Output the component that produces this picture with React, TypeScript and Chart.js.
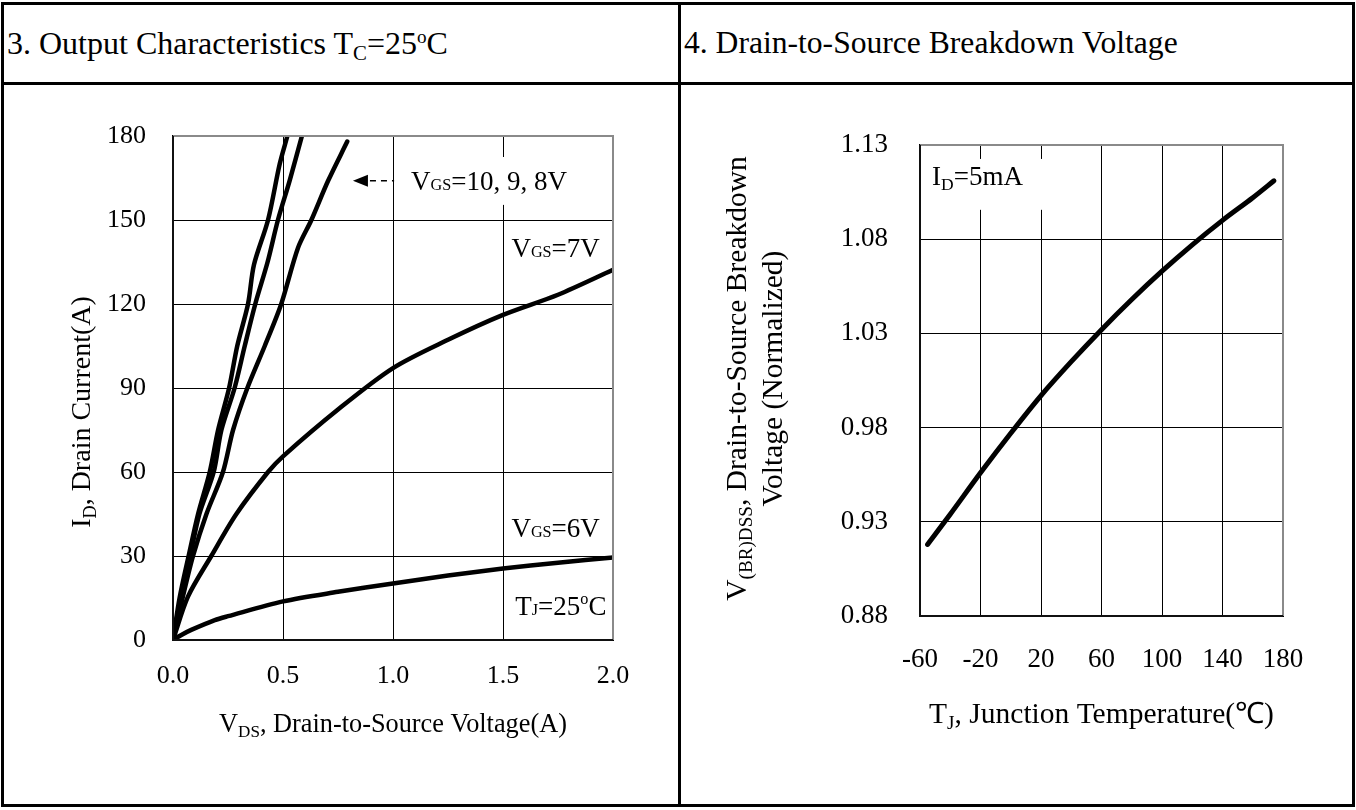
import React, { useEffect, useRef } from "react";
import { Chart, registerables } from "chart.js";

Chart.register(...registerables);

const FONT = '"Liberation Serif", "Times New Roman", serif';

// ---- Chart 3: Output characteristics (VDS [V] vs ID [A]) ----
const vds10 = [0, 0.03, 0.071, 0.114, 0.167, 0.205, 0.255, 0.292, 0.341, 0.368, 0.432, 0.485, 0.52];
const id10 = [0, 15, 30, 45, 60, 75, 90, 105, 120, 134, 150, 170, 180];
const vds9 = [0, 0.035, 0.078, 0.12, 0.185, 0.22, 0.28, 0.326, 0.374, 0.43, 0.477, 0.53, 0.586];
const id9 = [0, 15, 30, 45, 60, 75, 90, 105, 120, 135, 150, 164, 180];
const vds8 = [0, 0.045, 0.091, 0.152, 0.227, 0.273, 0.338, 0.417, 0.492, 0.568, 0.629, 0.705, 0.792];
const id8 = [0, 15.5, 30, 45, 60, 75, 90, 105, 120, 140, 150, 164, 178];
const vds7 = [0, 0.068, 0.174, 0.288, 0.432, 0.5, 0.75, 1.0, 1.25, 1.5, 1.75, 2.0];
const id7 = [0, 15.5, 30, 45, 60, 65.6, 82.3, 97.1, 107.2, 116.1, 123.3, 132.2];
const vds6 = [0, 0.038, 0.083, 0.19, 0.25, 0.5, 0.75, 1.0, 1.25, 1.5, 1.75, 2.0];
const id6 = [0, 1.8, 3.6, 7.1, 8.5, 13.8, 17.2, 20.2, 23, 25.5, 27.6, 29.5];
const vdsTicks = [0, 0.5, 1.0, 1.5, 2.0];
const idTicks = [0, 30, 60, 90, 120, 150, 180];

// ---- Chart 4: Breakdown voltage vs junction temperature ----
const tempC = [-55, -40, -20, 0, 20, 40, 60, 80, 100, 120, 140, 160, 174];
const bvNorm = [0.918, 0.934, 0.956, 0.977, 0.997, 1.015, 1.032, 1.048, 1.063, 1.077, 1.09, 1.102, 1.111];
const tempTicks = [-60, -20, 20, 60, 100, 140, 180];
const bvTicks = [0.88, 0.93, 0.98, 1.03, 1.08, 1.13];

type Seg = { t: string; k?: "sub" | "sup" | "small" };

function segSize(s: Seg, size: number) {
  if (s.k === "sub") return size * 0.65;
  if (s.k === "sup") return size * 0.6;
  if (s.k === "small") return size * 0.6;
  return size;
}
function segDy(s: Seg, size: number) {
  if (s.k === "sub") return size * 0.2;
  if (s.k === "sup") return -size * 0.42;
  return 0;
}

function drawRich(
  ctx: CanvasRenderingContext2D,
  segs: Seg[],
  x: number,
  y: number,
  size: number,
  align: "left" | "center" | "right",
  rotate = false
) {
  ctx.save();
  ctx.translate(x, y);
  if (rotate) ctx.rotate(-Math.PI / 2);
  ctx.textBaseline = "alphabetic";
  ctx.textAlign = "left";
  ctx.fillStyle = "#000";
  let total = 0;
  const widths = segs.map((s) => {
    ctx.font = `${segSize(s, size)}px ${FONT}`;
    const w = ctx.measureText(s.t).width;
    total += w;
    return w;
  });
  let cx = align === "left" ? 0 : align === "center" ? -total / 2 : -total;
  const base = size * 0.33;
  segs.forEach((s, i) => {
    ctx.font = `${segSize(s, size)}px ${FONT}`;
    ctx.fillText(s.t, cx, base + segDy(s, size));
    cx += widths[i];
  });
  ctx.restore();
}

function drawFrame(chart: any) {
  const { ctx, chartArea: a } = chart;
  ctx.save();
  ctx.lineWidth = 2;
  ctx.strokeStyle = "#8a8a8a";
  ctx.beginPath();
  ctx.moveTo(a.left, a.top);
  ctx.lineTo(a.right, a.top);
  ctx.lineTo(a.right, a.bottom);
  ctx.stroke();
  ctx.strokeStyle = "#111";
  ctx.beginPath();
  ctx.moveTo(a.left, a.top);
  ctx.lineTo(a.left, a.bottom);
  ctx.lineTo(a.right, a.bottom);
  ctx.stroke();
  ctx.restore();
}

function whiteBox(chart: any, xa: number, xb: number, ya: number, yb: number) {
  const { ctx, scales } = chart;
  const x0 = scales.x.getPixelForValue(xa);
  const x1 = scales.x.getPixelForValue(xb);
  const y0 = scales.y.getPixelForValue(ya);
  const y1 = scales.y.getPixelForValue(yb);
  ctx.save();
  ctx.fillStyle = "#fff";
  ctx.fillRect(x0, y0, x1 - x0, y1 - y0);
  ctx.restore();
}

const leftDecor = {
  id: "leftDecor",
  beforeDatasetsDraw(chart: any) {
    whiteBox(chart, 1.04, 1.9, 172.5, 155.4);
  },
  afterDraw(chart: any) {
    const { ctx, chartArea: a, scales } = chart;
    const X = (v: number) => scales.x.getPixelForValue(v);
    const Y = (v: number) => scales.y.getPixelForValue(v);
    drawFrame(chart);
    const fs = 27;
    // arrow + dashes
    ctx.save();
    ctx.fillStyle = "#000";
    ctx.strokeStyle = "#000";
    const ay = Y(164);
    const tip = X(0.818);
    ctx.beginPath();
    ctx.moveTo(tip, ay);
    ctx.lineTo(tip + 15, ay - 6);
    ctx.lineTo(tip + 15, ay + 6);
    ctx.closePath();
    ctx.fill();
    ctx.lineWidth = 1.5;
    ctx.setLineDash([6, 5]);
    ctx.beginPath();
    ctx.moveTo(tip + 17, ay);
    ctx.lineTo(X(1.005), ay);
    ctx.stroke();
    ctx.restore();
    drawRich(ctx, [{ t: "V" }, { t: "GS", k: "small" }, { t: "=10, 9, 8V" }], X(1.082), Y(164), fs, "left");
    drawRich(ctx, [{ t: "V" }, { t: "GS", k: "small" }, { t: "=7V" }], X(1.94), Y(140), fs, "right");
    drawRich(ctx, [{ t: "V" }, { t: "GS", k: "small" }, { t: "=6V" }], X(1.94), Y(40), fs, "right");
    drawRich(ctx, [{ t: "T" }, { t: "J", k: "small" }, { t: "=25" }, { t: "o", k: "sup" }, { t: "C" }], X(1.97), Y(12), fs, "right");
    // axis titles
    drawRich(ctx, [{ t: "I" }, { t: "D", k: "sub" }, { t: ", Drain Current(A)" }], a.left - 92, (a.top + a.bottom) / 2 + 24, 28, "center", true);
    drawRich(ctx, [{ t: "V" }, { t: "DS", k: "sub" }, { t: ", Drain-to-Source Voltage(A)" }], (a.left + a.right) / 2, a.bottom + 83, 26.3, "center");
  },
};

const rightDecor = {
  id: "rightDecor",
  beforeDatasetsDraw(chart: any) {
    whiteBox(chart, -56.7, 32.5, 1.1226, 1.0956);
  },
  afterDraw(chart: any) {
    const { ctx, chartArea: a, scales } = chart;
    const X = (v: number) => scales.x.getPixelForValue(v);
    const Y = (v: number) => scales.y.getPixelForValue(v);
    drawFrame(chart);
    drawRich(ctx, [{ t: "I" }, { t: "D", k: "sub" }, { t: "=5mA" }], X(-52), Y(1.1136), 27, "left");
    const my = (a.top + a.bottom) / 2 - 2;
    drawRich(ctx, [{ t: "V" }, { t: "(BR)DSS", k: "sub" }, { t: ", Drain-to-Source Breakdown" }], a.left - 184, my, 29.5, "center", true);
    drawRich(ctx, [{ t: "Voltage (Normalized)" }], a.left - 148, my, 29.5, "center", true);
    drawRich(ctx, [{ t: "T" }, { t: "J", k: "sub" }, { t: ", Junction Temperature(\u2103)" }], (a.left + a.right) / 2, a.bottom + 97, 29.5, "center");
  },
};

function pts(xs: number[], ys: number[]) {
  return xs.map((x, i) => ({ x, y: ys[i] }));
}

function lineDs(data: { x: number; y: number }[], width: number) {
  return {
    data,
    borderColor: "#000",
    borderWidth: width,
    pointRadius: 0,
    tension: 0.3,
    fill: false,
    borderCapStyle: "round" as const,
    borderJoinStyle: "round" as const,
  };
}

function scaleOpts(
  min: number,
  max: number,
  ticks: number[],
  fmt: (v: number) => string,
  fontSize: number,
  pad: number,
  fitSize: number,
  horiz: boolean
) {
  return {
    type: "linear" as const,
    min,
    max,
    afterBuildTicks: (s: any) => {
      s.ticks = ticks.map((v) => ({ value: v }));
    },
    afterFit: (s: any) => {
      if (horiz) s.height = fitSize;
      else s.width = fitSize;
    },
    grid: { color: "#000", lineWidth: 1, drawTicks: false },
    border: { display: true, color: "#000", width: 2 },
    ticks: {
      color: "#000",
      padding: pad,
      autoSkip: false,
      maxRotation: 0,
      font: { family: FONT, size: fontSize },
      callback: (v: any) => fmt(Number(v)),
    },
  };
}

export default function App() {
  const leftRef = useRef<HTMLCanvasElement>(null);
  const rightRef = useRef<HTMLCanvasElement>(null);

  useEffect(() => {
    const c1 = new Chart(leftRef.current!, {
      type: "line",
      data: {
        datasets: [
          lineDs(pts(vds10, id10), 4.5),
          lineDs(pts(vds9, id9), 4.5),
          lineDs(pts(vds8, id8), 4.5),
          lineDs(pts(vds7, id7), 4.5),
          lineDs(pts(vds6, id6), 4.5),
        ],
      },
      options: {
        responsive: false,
        animation: false,
        devicePixelRatio: 1,
        layout: { padding: { left: 29, right: 65, top: 51, bottom: 64 } },
        plugins: { legend: { display: false }, tooltip: { enabled: false } },
        scales: {
          x: scaleOpts(0, 2, vdsTicks, (v) => v.toFixed(1), 26, 21, 100, true),
          y: scaleOpts(0, 180, idTicks, (v) => String(v), 26, 27, 140, false),
        },
      },
      plugins: [leftDecor],
    } as any);

    const c2 = new Chart(rightRef.current!, {
      type: "line",
      data: { datasets: [lineDs(pts(tempC, bvNorm), 5)] },
      options: {
        responsive: false,
        animation: false,
        devicePixelRatio: 1,
        layout: { padding: { left: 89, right: 69, top: 60, bottom: 88 } },
        plugins: { legend: { display: false }, tooltip: { enabled: false } },
        scales: {
          x: scaleOpts(-60, 180, tempTicks, (v) => String(v), 27, 28, 100, true),
          y: scaleOpts(0.88, 1.13, bvTicks, (v) => v.toFixed(2), 27, 32, 150, false),
        },
      },
      plugins: [rightDecor],
    } as any);

    return () => {
      c1.destroy();
      c2.destroy();
    };
  }, []);

  const bar = (left: number, top: number, width: number, height: number) => (
    <div style={{ position: "absolute", left, top, width, height, background: "#000" }} />
  );
  const subStyle: React.CSSProperties = { fontSize: "0.65em", position: "relative", top: "0.28em" };
  const supStyle: React.CSSProperties = { fontSize: "0.6em", position: "relative", top: "-0.55em" };

  return (
    <div style={{ position: "absolute", left: 0, top: 0, width: 1356, height: 810, background: "#fff", fontFamily: FONT }}>
      <canvas ref={leftRef} width={674} height={719} style={{ position: "absolute", left: 4, top: 85, width: 674, height: 719 }} />
      <canvas ref={rightRef} width={671} height={719} style={{ position: "absolute", left: 681, top: 85, width: 671, height: 719 }} />
      <div style={{ position: "absolute", left: 7, top: 3, height: 80, lineHeight: "80px", fontSize: 32, whiteSpace: "nowrap" }}>
        3. Output Characteristics T<span style={subStyle}>C</span>=25<span style={supStyle}>o</span>C
      </div>
      <div style={{ position: "absolute", left: 684, top: 3, height: 80, lineHeight: "80px", fontSize: 31.6, whiteSpace: "nowrap" }}>
        4. Drain-to-Source Breakdown Voltage
      </div>
      {bar(1, 2, 1354, 3)}
      {bar(1, 804, 1354, 3)}
      {bar(1, 2, 3, 805)}
      {bar(1352, 2, 3, 805)}
      {bar(1, 82, 1354, 3)}
      {bar(678, 2, 3, 805)}
    </div>
  );
}
